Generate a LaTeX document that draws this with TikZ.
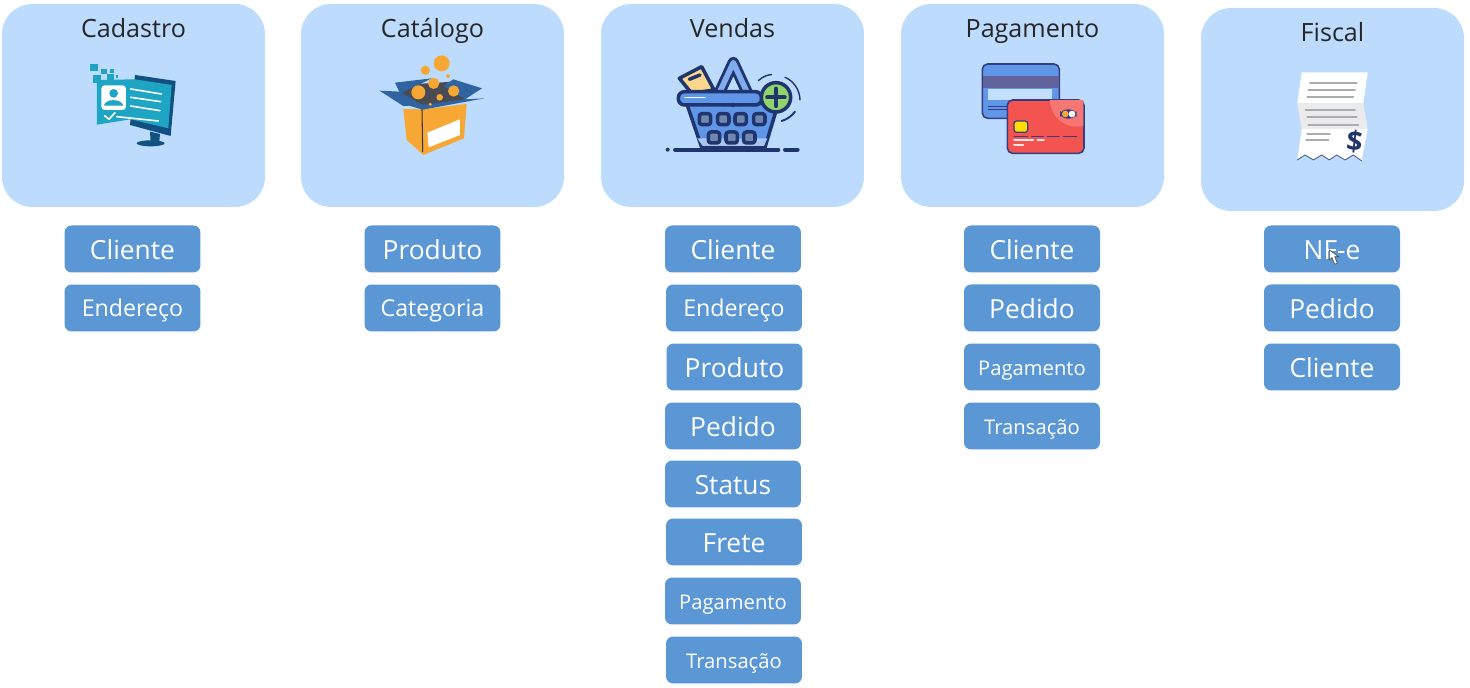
\documentclass[tikz,border=0pt]{standalone}
\usepackage{fontspec}
\setmainfont{Open Sans}
\usetikzlibrary{shapes.misc}
\definecolor{panelblue}{RGB}{189, 220, 253}
\definecolor{boxblue}{RGB}{91, 150, 213}
\definecolor{navy}{RGB}{32, 52, 110}
\definecolor{tealcard}{RGB}{30, 165, 195}
\definecolor{tealdark}{RGB}{18, 80, 130}
\definecolor{boxorange}{RGB}{247, 168, 52}
\definecolor{flapblue}{RGB}{48, 100, 160}
\definecolor{boxinner}{RGB}{74, 74, 85}
\definecolor{basketblue}{RGB}{96, 150, 232}
\definecolor{holegrey}{RGB}{112, 135, 175}
\definecolor{paperyellow}{RGB}{250, 215, 140}
\definecolor{plusgreen}{RGB}{145, 212, 105}
\definecolor{cardred}{RGB}{243, 84, 80}
\definecolor{cardnavy}{RGB}{56, 60, 130}
\definecolor{papergrey}{RGB}{170, 172, 178}

\begin{document}
\begin{tikzpicture}[x=0.02cm, y=-0.02cm, line cap=round, line join=round,
	panel/.style={fill=panelblue, rounded corners=0.6cm, minimum width=5.26cm, minimum height=4.06cm, inner sep=0pt},
	paneltitle/.style={anchor=base, font=\fontsize{14.3}{15}\selectfont, text=black!85},
	item/.style={fill=boxblue, rounded corners=0.14cm, minimum width=2.72cm, inner sep=0pt, text=white},
	big/.style={item, text height=0.69cm, text depth=0.25cm, font=\fontsize{15}{15}\selectfont},
	mid/.style={item, text height=0.65cm, text depth=0.29cm, font=\fontsize{13.2}{14}\selectfont},
	small/.style={item, text height=0.64cm, text depth=0.30cm, font=\fontsize{11.5}{12}\selectfont},
	icon/.style={shift={#1}, scale=0.3333}]

	\useasboundingbox (0,0) rectangle (1470,688);

	% top panels
	\node[panel] (cadastro) at (133.5,105.5) {};
	\node[panel] (catalogo) at (432.5,105.5) {};
	\node[panel] (vendas) at (732.5,105.5) {};
	\node[panel] (pagamento) at (1032.5,105.5) {};
	\node[panel] (fiscal) at (1332.5,109.5) {};

	% panel titles
	\node[paneltitle] (cadastroTitle) at (133.5,38) {Cadastro};
	\node[paneltitle] (catalogoTitle) at (432.5,38) {Catálogo};
	\node[paneltitle] (vendasTitle) at (732.5,38) {Vendas};
	\node[paneltitle] (pagamentoTitle) at (1032.5,38) {Pagamento};
	\node[paneltitle] (fiscalTitle) at (1332.5,42) {Fiscal};

	% column 1
	\node[big] (cliente1) at (132.5,249) {Cliente};
	\node[mid] (endereco1) at (132.5,308) {Endereço};

	% column 2
	\node[big] (produto2) at (432.5,249) {Produto};
	\node[mid] (categoria2) at (432.5,308) {Categoria};

	% column 3
	\node[big] (cliente3) at (733,249) {Cliente};
	\node[mid] (endereco3) at (734,308) {Endereço};
	\node[big] (produto3) at (734.5,367) {Produto};
	\node[big] (pedido3) at (733,426) {Pedido};
	\node[big] (status3) at (733,484) {Status};
	\node[big] (frete3) at (734,542) {Frete};
	\node[small] (pagamento3) at (733,601) {Pagamento};
	\node[small] (transacao3) at (734,660) {Transação};

	% column 4
	\node[big] (cliente4) at (1032,249) {Cliente};
	\node[big] (pedido4) at (1032,308) {Pedido};
	\node[small] (pagamento4) at (1032,367) {Pagamento};
	\node[small] (transacao4) at (1032,426) {Transação};

	% column 5
	\node[big] (nfe5) at (1332,249) {NF-e};
	\node[big] (pedido5) at (1332,308) {Pedido};
	\node[big] (cliente5) at (1332,367) {Cliente};

	% cursor on NF-e
	\begin{scope}[icon={(1250,215)}]
		\draw[fill=white, draw=black!70, line width=0.4pt] (238,105)--(238,135)--(246,128)--(254,148)--(262,144)--(254,125)--(266,125)--cycle;
	\end{scope}

	% icon cadastro
	\begin{scope}[icon={(0,0)}]
		\fill[tealdark] (405,225)--(527,243)--(512,408)--(390,375)--cycle;
		\fill[tealdark] (450,395)--(480,402)--(478,425)--(452,425)--cycle;
		\fill[tealdark] (452,430) ellipse (42 and 9);
		\fill[tealcard] (291,240)--(405,238)--(515,255)--(505,385)--(392,358)--(291,374)--cycle;
		\fill[white, rounded corners=2pt] (304,256) rectangle (378,330);
		\fill[tealcard] (341,280) circle (13);
		\fill[tealcard] (312,317) .. controls (315,295) and (365,295) .. (370,317) -- cycle;
		\draw[white, line width=0.9pt] (392,267)--(484,282) (392,292)--(482,305) (392,318)--(480,332) (350,350)--(475,363);
		\draw[white, line width=0.9pt] (314,347)--(327,358)--(345,338);
		\fill[tealcard] (271,191) rectangle (295,213);
		\fill[tealcard] (304,207) rectangle (320,223);
		\fill[tealcard] (330,207) rectangle (342,218);
		\fill[tealcard] (279,226) rectangle (303,250);
		\fill[tealcard] (322,223) rectangle (342,243);
		\fill[tealcard] (347,226) rectangle (355,234);
	\end{scope}

	% icon catalogo
	\begin{scope}[icon={(350,40)}]
		\fill[boxorange] (160,207)--(218,208)--(350,192)--(342,295)--(220,345)--(170,300)--cycle;
		\fill[white] (232,278)--(330,238)--(330,285)--(236,322)--cycle;
		\draw[black!80, line width=0.6pt] (216,207)--(218,335);
		\fill[boxinner] (150,135)--(310,125)--(350,178)--(220,200)--(160,178)--cycle;
		\fill[flapblue] (135,128)--(245,115)--(205,135)--(150,160)--cycle;
		\fill[flapblue] (310,118)--(396,145)--(345,178)--(280,138)--cycle;
		\fill[flapblue] (88,152)--(150,155)--(215,195)--(160,198)--cycle;
		\fill[flapblue] (160,192)--(218,209)--(404,175)--(345,178)--(222,194)--(165,178)--cycle;
		\fill[boxorange] (275,70) circle (24);
		\fill[boxorange] (226,91) circle (14);
		\fill[boxorange] (294,108) circle (6);
		\fill[boxorange] (251,130) circle (17);
		\fill[boxorange] (205,157) circle (21);
		\fill[boxorange] (311,153) circle (17);
		\fill[boxorange] (269,172) circle (10);
		\fill[boxorange] (241,193) circle (5);
	\end{scope}

	% icon vendas
	\begin{scope}[icon={(650,40)}]
		\fill[navy] (53,329) circle (6);
		\draw[navy, line width=2.2pt] (75,329)--(385,329) (405,329)--(443,329);
		\draw[navy, fill=basketblue, line width=2pt] (110,190)--(385,190)--(345,322)--(155,322)--cycle;
		\fill[basketblue!55!white] (142,295)--(352,295)--(342,318)--(158,318)--cycle;
		\draw[navy, fill=paperyellow, line width=2pt] (88,115)--(155,80)--(192,150)--(125,160)--cycle;
		\draw[navy, line width=2pt] (118,118)--(150,105);
		\draw[navy, line width=6.5pt] (205,165)--(250,68)--(295,165);
		\draw[basketblue!80!white, line width=3.2pt] (205,165)--(250,68)--(295,165);
		\draw[navy, fill=basketblue, line width=2pt, rounded corners=3.5pt] (85,155) rectangle (335,195);
		\draw[white, line width=0.7pt] (105,173)--(165,173);
		\fill[navy] (248,195) circle (7);
		\foreach \hx in {165,220,272,328} {
			\draw[navy, fill=holegrey, line width=2pt, rounded corners=1.5pt] (\hx-17,221) rectangle (\hx+17,254);
		}
		\foreach \hx in {192,245,298} {
			\draw[navy, fill=holegrey, line width=2pt, rounded corners=1.5pt] (\hx-17,276) rectangle (\hx+17,309);
		}
		\draw[navy, fill=plusgreen, line width=2pt] (378,172) circle (44);
		\draw[navy, line width=2.4pt] (352,172)--(404,172) (378,146)--(378,198);
		\draw[navy, line width=0.8pt] (325,122) .. controls (340,108) and (355,104) .. (365,104);
		\draw[navy, line width=0.8pt] (405,112) .. controls (430,122) and (450,150) .. (450,180);
		\draw[navy, line width=1.1pt] (395,243) .. controls (412,238) and (425,228) .. (435,215);
	\end{scope}

	% icon pagamento
	\begin{scope}[icon={(960,50)}]
		\draw[cardnavy, fill=basketblue, line width=0.9pt, rounded corners=3pt] (67,42) rectangle (298,205);
		\fill[cardnavy!80!white] (68,78) rectangle (298,115);
		\fill[panelblue!90!white] (85,118) rectangle (275,150);
		\draw[cardnavy, line width=0.5pt] (85,168)--(145,168) (85,178)--(140,178);
		\draw[cardnavy, fill=cardred, line width=0.9pt, rounded corners=3pt] (142,150) rectangle (372,310);
		\begin{scope}
			\clip (270,152) rectangle (370,230);
			\fill[cardred!80!white] (350,150) circle (80);
		\end{scope}
		\draw[cardnavy, fill=cardnavy, line width=0.6pt, rounded corners=3.5pt] (302,180) rectangle (348,204);
		\fill[boxorange] (316,192) circle (10);
		\fill[white] (336,192) circle (10);
		\draw[cardnavy, fill=yellow!80!orange, line width=0.7pt, rounded corners=1.5pt] (162,213) rectangle (203,247);
		\draw[cardnavy, line width=0.6pt] (162,260)--(203,260) (215,260)--(250,260) (262,260)--(297,260) (310,260)--(350,260);
		\draw[white!85!cardred, line width=0.8pt] (162,270)--(220,270) (232,270)--(252,270) (162,285)--(190,285);
	\end{scope}

	% icon fiscal
	\begin{scope}[icon={(1270,55)}]
		\fill[white] (95,52)--(293,52)--(280,145)--(82,145)--cycle;
		\fill[black!8] (82,145)--(280,145)--(293,222)--(95,222)--cycle;
		\fill[white] (95,222)--(293,222)--(275,315)--(250,300)--(225,315)--(200,300)--(178,315)--(155,300)--(130,315)--(105,300)--(82,315)--cycle;
		\draw[navy!80, line width=0.5pt] (82,315)--(105,300)--(130,315)--(155,300)--(178,315)--(200,300)--(225,315)--(250,300)--(275,318);
		\draw[papergrey, line width=1.1pt] (120,84)--(260,84) (115,105)--(255,105) (112,127)--(250,127);
		\draw[papergrey, line width=1.1pt] (107,164)--(255,164) (112,186)--(260,186) (115,209)--(265,209);
		\draw[papergrey, line width=1.1pt] (112,236)--(180,236) (108,256)--(175,256);
		\node[text=navy, font=\fontsize{16}{16}\selectfont\bfseries, inner sep=0pt, rotate=-6] (dollar) at (254,260) {\$};
	\end{scope}
\end{tikzpicture}
\end{document}
